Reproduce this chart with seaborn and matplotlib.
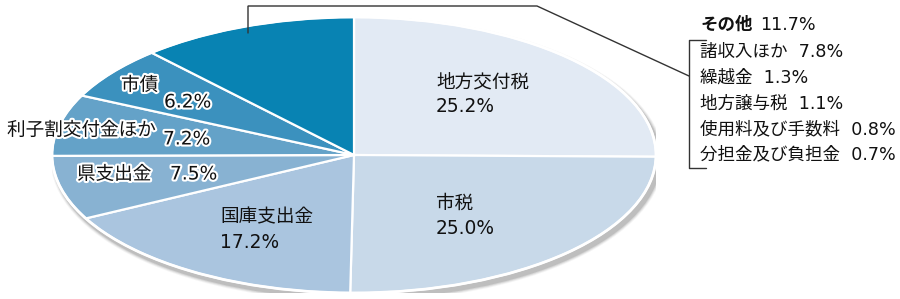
import matplotlib
matplotlib.use("Agg")
import matplotlib.pyplot as plt
import matplotlib.patheffects as pe
from matplotlib.patches import Ellipse
import seaborn as sns

# ---- data ----
categories = ["地方交付税", "市税", "国庫支出金", "県支出金", "利子割交付金ほか", "市債", "その他"]
values = [25.2, 25.0, 17.2, 7.5, 7.2, 6.2, 11.7]
other_title = "その他"
other_value = 11.7
other_items = ["諸収入ほか", "繰越金", "地方譲与税", "使用料及び手数料", "分担金及び負担金"]
other_values = [7.8, 1.3, 1.1, 0.8, 0.7]

colors = ["#e2eaf4", "#c8d9e9", "#aac5df", "#88b2d2", "#64a2c8", "#3b91be", "#0883b3"]

sns.set_theme(style="white")
plt.rcParams["font.family"] = ["DejaVu Sans", "Noto Sans CJK JP"]
palette = sns.color_palette(colors)

W, H = 900, 299
fig = plt.figure(figsize=(W / 100, H / 100), dpi=100)

# ---- pie axes (ellipse) ----
cx, cy, rx, ry = 354, 155, 302, 138
ax = fig.add_axes([(cx - rx) / W, (H - (cy + ry)) / H, 2 * rx / W, 2 * ry / H])
# soft shadow
for i, a in enumerate([0.10, 0.08, 0.06, 0.04]):
    d = 0.012 + i * 0.006
    ax.add_patch(Ellipse((0.01, -0.03), 2 + d, 2 + d * 2.2, color="black", alpha=a, lw=0, zorder=0))
wedges, _ = ax.pie(values, colors=palette, startangle=90, counterclock=False,
                   wedgeprops=dict(edgecolor="white", linewidth=1.6), radius=1)
for w in wedges:
    w.set_zorder(2)
ax.add_patch(Ellipse((0, 0), 2, 2, fill=False, edgecolor="white", lw=2.0, zorder=3))
ax.set_xlim(-1, 1)
ax.set_ylim(-1, 1)
ax.set_aspect("auto")
ax.axis("off")

# ---- overlay axes in pixel coordinates ----
ov = fig.add_axes([0, 0, 1, 1])
ov.set_xlim(0, W)
ov.set_ylim(H, 0)
ov.axis("off")
ov.patch.set_alpha(0)

fs = 13.4
halo = [pe.withStroke(linewidth=3, foreground="white")]

def pct(v):
    return f"{v:.1f}%"

# inside labels
ov.text(436, 83, categories[0], fontsize=fs, va="center", ha="left", color="#111")
ov.text(436, 107, pct(values[0]), fontsize=fs, va="center", ha="left", color="#111")
ov.text(436, 203, categories[1], fontsize=fs, va="center", ha="left", color="#111")
ov.text(436, 229, pct(values[1]), fontsize=fs, va="center", ha="left", color="#111")
ov.text(220, 217, categories[2], fontsize=fs, va="center", ha="left", color="#111")
ov.text(220, 242, pct(values[2]), fontsize=fs, va="center", ha="left", color="#111")
ov.text(77, 174, categories[3], fontsize=fs, va="center", ha="left", color="#111", path_effects=halo)
ov.text(170, 174, pct(values[3]), fontsize=fs, va="center", ha="left", color="#111", path_effects=halo)
ov.text(7, 130, categories[4], fontsize=fs, va="center", ha="left", color="#111", path_effects=halo)
ov.text(163, 139, pct(values[4]), fontsize=fs, va="center", ha="left", color="#111", path_effects=halo)
ov.text(121, 85, categories[5], fontsize=fs, va="center", ha="left", color="#111", path_effects=halo)
ov.text(164, 102, pct(values[5]), fontsize=fs, va="center", ha="left", color="#111", path_effects=halo)

# leader line from "その他"
ov.plot([248, 248, 537, 689], [33, 6, 6, 76], color="#333333", lw=1.0, solid_joinstyle="miter")
# bracket
ov.plot([706, 689, 689, 706], [40, 40, 168, 168], color="#333333", lw=1.0)

fs2 = 12.6
ov.text(700, 25, other_title, fontsize=fs2, fontweight="bold", va="center", ha="left", color="#111")
ov.text(760, 25, pct(other_value), fontsize=fs2, va="center", ha="left", color="#111")
for i, (lab, v) in enumerate(zip(other_items, other_values)):
    ov.text(700, 52.5 + i * 25.5, f"{lab}  {pct(v)}", fontsize=fs2, va="center", ha="left", color="#111")

fig.savefig("out.png", dpi=100)
